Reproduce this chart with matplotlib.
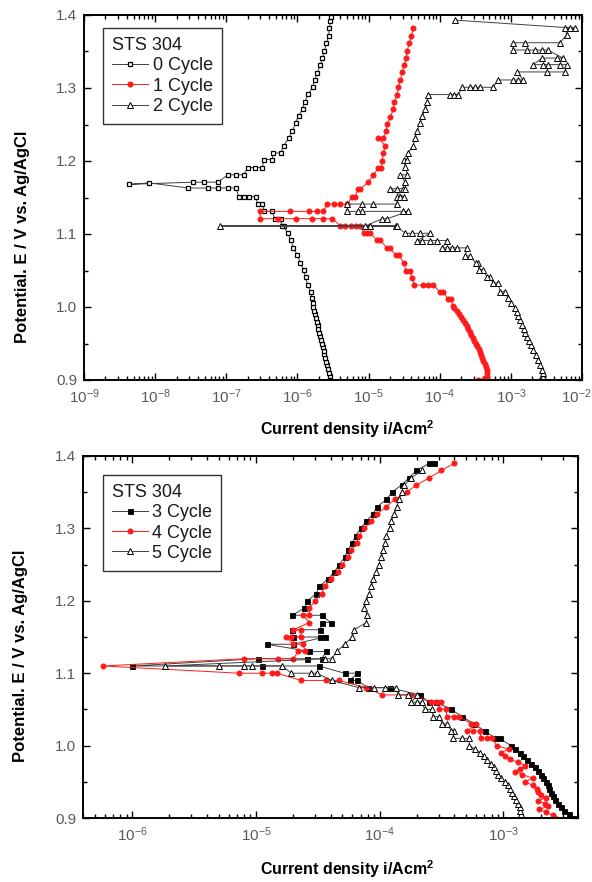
import matplotlib
matplotlib.use("Agg")
import matplotlib.pyplot as plt
import matplotlib.transforms as mtransforms
from matplotlib.ticker import (LogLocator, FixedLocator, MultipleLocator,
                               NullFormatter, FormatStrFormatter,
                               LogFormatterSciNotation)

plt.rcParams['font.family'] = ['Liberation Sans', 'DejaVu Sans']
plt.rcParams['mathtext.default'] = 'regular'

# ---- polarisation data: (potential E / V vs Ag/AgCl, current density / A cm^-2) ----
cycle0 = [(0.900, 2.91e-6), (0.905, 2.83e-6), (0.910, 2.75e-6), (0.915, 2.68e-6),
          (0.920, 2.60e-6), (0.925, 2.52e-6), (0.930, 2.45e-6), (0.935, 2.40e-6),
          (0.940, 2.35e-6), (0.945, 2.28e-6), (0.950, 2.20e-6), (0.955, 2.15e-6),
          (0.960, 2.10e-6), (0.965, 2.03e-6), (0.970, 1.97e-6), (0.975, 1.92e-6),
          (0.980, 1.86e-6), (0.985, 1.82e-6), (0.990, 1.78e-6), (0.995, 1.73e-6),
          (1.000, 1.68e-6), (1.005, 1.65e-6), (1.012, 1.60e-6), (1.021, 1.53e-6),
          (1.030, 1.39e-6), (1.041, 1.30e-6), (1.051, 1.22e-6), (1.060, 1.10e-6),
          (1.071, 1.00e-6), (1.081, 8.8e-7), (1.092, 8.0e-7), (1.101, 7.3e-7),
          (1.111, 6.4e-7), (1.111, 6.0e-7), (1.121, 5.8e-7), (1.121, 4.8e-7),
          (1.131, 4.4e-7), (1.131, 3.4e-7), (1.141, 3.2e-7), (1.141, 2.75e-7),
          (1.151, 2.6e-7), (1.151, 2.1e-7), (1.151, 1.75e-7), (1.151, 1.5e-7),
          (1.163, 1.36e-7), (1.163, 1.05e-7), (1.163, 7.6e-8), (1.163, 5.5e-8),
          (1.163, 2.9e-8), (1.170, 8.2e-9), (1.168, 4.3e-9), (1.171, 3.4e-8),
          (1.171, 4.8e-8), (1.171, 7.6e-8), (1.181, 1.05e-7), (1.181, 1.35e-7),
          (1.181, 1.75e-7), (1.191, 2.0e-7), (1.191, 2.5e-7), (1.191, 3.2e-7),
          (1.202, 3.4e-7), (1.202, 4.4e-7), (1.211, 4.6e-7), (1.211, 5.8e-7),
          (1.221, 6.4e-7), (1.231, 7.5e-7), (1.241, 8.5e-7), (1.252, 9.4e-7),
          (1.262, 1.04e-6), (1.271, 1.18e-6), (1.281, 1.26e-6), (1.292, 1.43e-6),
          (1.301, 1.63e-6), (1.311, 1.74e-6), (1.321, 1.91e-6), (1.332, 2.11e-6),
          (1.341, 2.25e-6), (1.351, 2.40e-6), (1.362, 2.56e-6), (1.371, 2.74e-6),
          (1.382, 2.82e-6), (1.392, 2.91e-6), (1.397, 2.95e-6)]

cycle1 = [(0.900, 3.4e-4), (0.903, 4.4e-4), (0.906, 4.6e-4), (0.910, 4.62e-4),
          (0.914, 4.55e-4), (0.918, 4.42e-4), (0.922, 4.28e-4), (0.926, 4.12e-4),
          (0.930, 3.97e-4), (0.934, 3.82e-4), (0.938, 3.67e-4), (0.942, 3.52e-4),
          (0.946, 3.37e-4), (0.950, 3.22e-4), (0.954, 3.07e-4), (0.958, 2.92e-4),
          (0.962, 2.77e-4), (0.966, 2.63e-4), (0.970, 2.50e-4), (0.974, 2.38e-4),
          (0.978, 2.26e-4), (0.982, 2.13e-4), (0.986, 1.99e-4), (0.990, 1.86e-4),
          (0.994, 1.73e-4), (0.998, 1.61e-4), (1.001, 1.55e-4), (1.011, 1.42e-4),
          (1.011, 1.30e-4), (1.021, 1.12e-4), (1.021, 1.00e-4), (1.030, 8.1e-5),
          (1.030, 6.9e-5), (1.030, 5.9e-5), (1.030, 4.4e-5), (1.040, 4.1e-5),
          (1.050, 3.8e-5), (1.050, 3.4e-5), (1.060, 3.1e-5), (1.071, 2.7e-5),
          (1.071, 2.4e-5), (1.081, 2.0e-5), (1.081, 1.8e-5), (1.092, 1.45e-5),
          (1.092, 1.3e-5), (1.101, 1.05e-5), (1.101, 9.6e-6), (1.101, 8.6e-6),
          (1.111, 7.7e-6), (1.111, 6.6e-6), (1.111, 5.6e-6), (1.111, 4.7e-6),
          (1.111, 4.0e-6), (1.121, 3.1e-6), (1.121, 2.3e-6), (1.121, 1.58e-6),
          (1.121, 9.4e-7), (1.121, 5.3e-7), (1.121, 3.0e-7), (1.131, 3.0e-7),
          (1.131, 7.8e-7), (1.131, 1.44e-6), (1.131, 1.86e-6), (1.131, 2.3e-6),
          (1.141, 2.6e-6), (1.141, 3.3e-6), (1.141, 4.0e-6), (1.141, 5.0e-6),
          (1.151, 5.9e-6), (1.151, 6.4e-6), (1.162, 7.2e-6), (1.162, 7.7e-6),
          (1.171, 9.9e-6), (1.181, 1.17e-5), (1.190, 1.37e-5), (1.190, 1.50e-5),
          (1.200, 1.56e-5), (1.211, 1.61e-5), (1.221, 1.72e-5), (1.231, 1.37e-5),
          (1.231, 1.61e-5), (1.241, 1.78e-5), (1.251, 1.84e-5), (1.260, 2.02e-5),
          (1.271, 2.23e-5), (1.281, 2.30e-5), (1.290, 2.53e-5), (1.301, 2.62e-5),
          (1.311, 2.79e-5), (1.322, 2.98e-5), (1.332, 3.18e-5), (1.341, 3.39e-5),
          (1.351, 3.50e-5), (1.362, 3.73e-5), (1.371, 4.00e-5), (1.382, 4.25e-5)]

cycle2 = [(0.900, 2.6e-3), (0.904, 2.83e-3), (0.909, 2.82e-3), (0.914, 2.74e-3),
          (0.920, 2.60e-3), (0.927, 2.42e-3), (0.934, 2.24e-3), (0.941, 2.06e-3),
          (0.948, 1.90e-3), (0.954, 1.78e-3), (0.959, 1.69e-3), (0.965, 1.60e-3),
          (0.970, 1.52e-3), (0.976, 1.44e-3), (0.982, 1.35e-3), (0.988, 1.27e-3),
          (0.993, 1.21e-3), (0.999, 1.15e-3), (1.005, 1.02e-3), (1.012, 9.1e-4),
          (1.021, 8.2e-4), (1.021, 7.1e-4), (1.033, 6.5e-4), (1.033, 5.6e-4),
          (1.041, 5.1e-4), (1.041, 4.6e-4), (1.051, 4.1e-4), (1.051, 3.6e-4),
          (1.060, 3.4e-4), (1.060, 3.2e-4), (1.070, 2.7e-4), (1.070, 2.3e-4),
          (1.081, 2.43e-4), (1.081, 1.76e-4), (1.081, 1.50e-4), (1.081, 1.27e-4),
          (1.081, 1.08e-4), (1.091, 1.27e-4), (1.091, 9.2e-5), (1.091, 7.4e-5),
          (1.091, 5.7e-5), (1.091, 4.8e-5), (1.101, 7.4e-5), (1.101, 5.3e-5),
          (1.101, 4.1e-5), (1.101, 3.3e-5), (1.111, 2.4e-5), (1.111, 8.1e-8),
          (1.111, 2.53e-5), (1.111, 1.06e-5), (1.111, 9.0e-6), (1.121, 1.56e-5),
          (1.121, 1.84e-5), (1.131, 3.6e-5), (1.131, 3.0e-5), (1.131, 8.2e-6),
          (1.131, 7.0e-6), (1.131, 5.0e-6), (1.141, 5.0e-6), (1.141, 8.2e-6),
          (1.141, 1.17e-5), (1.141, 2.5e-5), (1.151, 2.5e-5), (1.151, 2.8e-5),
          (1.151, 3.1e-5), (1.162, 2.0e-5), (1.162, 2.5e-5), (1.162, 3.0e-5),
          (1.162, 3.3e-5), (1.171, 3.3e-5), (1.181, 2.8e-5), (1.181, 3.5e-5),
          (1.192, 3.3e-5), (1.201, 3.1e-5), (1.201, 3.5e-5), (1.211, 3.6e-5),
          (1.221, 4.25e-5), (1.231, 4.5e-5), (1.241, 4.83e-5), (1.252, 5.3e-5),
          (1.262, 5.7e-5), (1.271, 6.3e-5), (1.281, 6.7e-5), (1.291, 6.9e-5),
          (1.291, 1.40e-4), (1.291, 1.60e-4), (1.291, 1.82e-4), (1.301, 2.07e-4),
          (1.301, 2.68e-4), (1.301, 3.15e-4), (1.301, 3.70e-4), (1.301, 5.6e-4),
          (1.311, 6.6e-4), (1.311, 1.07e-3), (1.311, 1.26e-3), (1.311, 1.48e-3),
          (1.322, 1.22e-3), (1.322, 3.2e-3), (1.322, 5.75e-3), (1.332, 6.1e-3),
          (1.332, 4.9e-3), (1.332, 3.3e-3), (1.332, 2.83e-3), (1.332, 2.05e-3),
          (1.341, 2.74e-3), (1.341, 4.45e-3), (1.341, 5.4e-3), (1.352, 3.3e-3),
          (1.352, 2.74e-3), (1.352, 2.18e-3), (1.352, 1.69e-3), (1.352, 1.07e-3),
          (1.362, 1.07e-3), (1.362, 1.58e-3), (1.362, 4.9e-3), (1.373, 6.1e-3),
          (1.382, 5.75e-3), (1.382, 6.8e-3), (1.382, 7.9e-3), (1.393, 1.65e-4)]

cycle3 = [(0.900, 3.7e-3), (0.905, 3.4e-3), (0.910, 3.1e-3), (0.915, 2.9e-3),
          (0.920, 2.75e-3), (0.925, 2.62e-3), (0.930, 2.5e-3), (0.935, 2.42e-3),
          (0.940, 2.35e-3), (0.945, 2.28e-3), (0.950, 2.2e-3), (0.955, 2.1e-3),
          (0.960, 2.0e-3), (0.965, 1.9e-3), (0.970, 1.8e-3), (0.975, 1.68e-3),
          (0.980, 1.55e-3), (0.985, 1.45e-3), (0.990, 1.35e-3), (0.995, 1.25e-3),
          (1.000, 1.15e-3), (1.010, 9.3e-4), (1.010, 8.6e-4), (1.020, 7.1e-4),
          (1.030, 5.8e-4), (1.040, 4.6e-4), (1.050, 3.8e-4), (1.060, 2.85e-4),
          (1.060, 2.5e-4), (1.070, 2.1e-4), (1.080, 1.2e-4), (1.080, 8.0e-5),
          (1.090, 6.6e-5), (1.090, 5.7e-5), (1.100, 6.6e-5), (1.100, 5.2e-5),
          (1.110, 3.2e-5), (1.110, 1.12e-5), (1.110, 1.0e-6), (1.120, 1.04e-5),
          (1.120, 2.6e-5), (1.120, 3.4e-5), (1.130, 3.7e-5), (1.130, 2.7e-5),
          (1.140, 1.23e-5), (1.140, 2.0e-5), (1.150, 3.6e-5), (1.150, 3.3e-5),
          (1.150, 2.0e-5), (1.160, 1.97e-5), (1.160, 3.3e-5), (1.170, 3.4e-5),
          (1.170, 4.0e-5), (1.180, 3.4e-5), (1.180, 1.97e-5), (1.190, 2.46e-5),
          (1.200, 2.6e-5), (1.210, 3.07e-5), (1.220, 3.25e-5), (1.230, 3.8e-5),
          (1.240, 4.3e-5), (1.250, 4.7e-5), (1.260, 5.2e-5), (1.270, 5.5e-5),
          (1.280, 6.0e-5), (1.290, 6.4e-5), (1.300, 7.0e-5), (1.310, 7.8e-5),
          (1.320, 8.8e-5), (1.330, 9.55e-5), (1.340, 1.13e-4), (1.350, 1.26e-4),
          (1.360, 1.5e-4), (1.370, 1.73e-4), (1.380, 1.98e-4), (1.390, 2.52e-4),
          (1.390, 2.75e-4)]

cycle4 = [(0.900, 2.6e-3), (0.904, 2.5e-3), (0.908, 2.2e-3), (0.912, 1.95e-3),
          (0.916, 2.3e-3), (0.920, 2.15e-3), (0.924, 1.9e-3), (0.928, 2.2e-3),
          (0.932, 2.0e-3), (0.936, 1.9e-3), (0.940, 1.85e-3), (0.945, 1.72e-3),
          (0.950, 1.5e-3), (0.955, 1.72e-3), (0.960, 1.42e-3), (0.964, 1.25e-3),
          (0.968, 1.35e-3), (0.972, 1.5e-3), (0.977, 1.3e-3), (0.981, 1.12e-3),
          (0.985, 1.02e-3), (0.990, 9.5e-4), (0.995, 1.1e-3), (1.000, 8.8e-4),
          (1.010, 8.1e-4), (1.010, 7.3e-4), (1.010, 6.6e-4), (1.020, 6.4e-4),
          (1.020, 5.7e-4), (1.020, 5.1e-4), (1.030, 6.0e-4), (1.030, 5.5e-4),
          (1.040, 4.4e-4), (1.040, 4.0e-4), (1.040, 3.5e-4), (1.050, 3.4e-4),
          (1.050, 3.0e-4), (1.060, 3.1e-4), (1.060, 2.85e-4), (1.060, 2.6e-4),
          (1.070, 1.8e-4), (1.070, 1.05e-4), (1.080, 7.8e-5), (1.090, 4.7e-5),
          (1.090, 3.7e-5), (1.090, 2.3e-5), (1.100, 1.48e-5), (1.100, 1.35e-5),
          (1.100, 1.12e-5), (1.100, 7.3e-6), (1.110, 5.8e-7), (1.120, 8.0e-6),
          (1.120, 1.5e-5), (1.120, 2.0e-5), (1.130, 2.2e-5), (1.130, 2.5e-5),
          (1.140, 2.4e-5), (1.140, 2.0e-5), (1.150, 1.75e-5), (1.150, 1.93e-5),
          (1.150, 2.3e-5), (1.160, 2.3e-5), (1.160, 2.0e-5), (1.170, 2.7e-5),
          (1.180, 2.4e-5), (1.180, 2.7e-5), (1.190, 2.7e-5), (1.200, 3.0e-5),
          (1.210, 3.4e-5), (1.220, 3.6e-5), (1.230, 4.0e-5), (1.240, 4.6e-5),
          (1.250, 5.0e-5), (1.260, 5.5e-5), (1.270, 5.9e-5), (1.280, 6.5e-5),
          (1.290, 6.8e-5), (1.300, 7.5e-5), (1.310, 8.5e-5), (1.320, 9.5e-5),
          (1.330, 1.13e-4), (1.340, 1.32e-4), (1.350, 1.65e-4), (1.360, 1.98e-4),
          (1.370, 2.52e-4), (1.380, 3.15e-4), (1.390, 4.0e-4)]

cycle5 = [(0.900, 1.4e-3), (0.905, 1.39e-3), (0.910, 1.37e-3), (0.915, 1.35e-3),
          (0.920, 1.3e-3), (0.925, 1.26e-3), (0.930, 1.22e-3), (0.935, 1.18e-3),
          (0.940, 1.13e-3), (0.945, 1.08e-3), (0.950, 1.02e-3), (0.955, 9.5e-4),
          (0.960, 9.0e-4), (0.965, 8.7e-4), (0.970, 8.4e-4), (0.975, 7.9e-4),
          (0.980, 7.4e-4), (0.985, 7.0e-4), (0.990, 6.5e-4), (0.995, 5.9e-4),
          (1.000, 5.3e-4), (1.010, 5.3e-4), (1.010, 4.6e-4), (1.010, 3.9e-4),
          (1.020, 4.0e-4), (1.020, 3.8e-4), (1.030, 3.5e-4), (1.030, 3.2e-4),
          (1.040, 3.0e-4), (1.040, 2.7e-4), (1.050, 2.65e-4), (1.050, 2.3e-4),
          (1.060, 2.2e-4), (1.060, 2.0e-4), (1.060, 1.8e-4), (1.070, 2.0e-4),
          (1.070, 1.7e-4), (1.070, 1.4e-4), (1.080, 1.35e-4), (1.080, 1.1e-4),
          (1.080, 9.0e-5), (1.080, 6.8e-5), (1.090, 4.1e-5), (1.100, 3.1e-5),
          (1.100, 2.8e-5), (1.100, 1.93e-5), (1.110, 1.63e-5), (1.110, 9.3e-6),
          (1.110, 8.0e-6), (1.110, 5.0e-6), (1.110, 1.85e-6), (1.120, 3.6e-5),
          (1.120, 4.1e-5), (1.130, 4.5e-5), (1.140, 5.2e-5), (1.150, 6.0e-5),
          (1.160, 6.2e-5), (1.170, 7.8e-5), (1.180, 7.9e-5), (1.190, 7.5e-5),
          (1.200, 7.8e-5), (1.210, 8.2e-5), (1.220, 8.55e-5), (1.230, 8.9e-5),
          (1.240, 9.4e-5), (1.250, 9.8e-5), (1.260, 1.03e-4), (1.270, 1.07e-4),
          (1.280, 1.11e-4), (1.290, 1.13e-4), (1.300, 1.2e-4), (1.310, 1.24e-4),
          (1.320, 1.31e-4), (1.330, 1.37e-4), (1.340, 1.44e-4), (1.350, 1.5e-4),
          (1.360, 1.58e-4), (1.370, 1.8e-4), (1.380, 2.2e-4)]

top_labels = ["0 Cycle", "1 Cycle", "2 Cycle"]
bottom_labels = ["3 Cycle", "4 Cycle", "5 Cycle"]
legend_title = "STS 304"
x_label = "Current density i/Acm$^{2}$"
y_label = "Potential. E / V vs. Ag/AgCl"
top_xlim = (1e-9, 1e-2)
bottom_xlim = (4e-7, 4e-3)
top_decades = [1e-9, 1e-8, 1e-7, 1e-6, 1e-5, 1e-4, 1e-3, 1e-2]
bottom_decades = [1e-6, 1e-5, 1e-4, 1e-3]
e_lim = (0.9, 1.4)

RED = "#ff1a1a"
LINE_GREY = "#404040"


def split(pairs):
    e = [p[0] for p in pairs]
    i = [p[1] for p in pairs]
    return i, e


def style_axes(ax, xlim, decades):
    ax.set_xscale("log")
    ax.set_xlim(*xlim)
    ax.set_ylim(*e_lim)
    ax.xaxis.set_major_locator(FixedLocator(decades))
    ax.xaxis.set_major_formatter(LogFormatterSciNotation())
    ax.xaxis.set_minor_locator(LogLocator(base=10, subs=range(2, 10), numticks=20))
    ax.xaxis.set_minor_formatter(NullFormatter())
    ax.yaxis.set_major_locator(MultipleLocator(0.1))
    ax.yaxis.set_minor_locator(MultipleLocator(0.05))
    ax.yaxis.set_major_formatter(FormatStrFormatter("%.1f"))
    ax.tick_params(which="both", direction="in", top=True, right=True,
                   width=1.0, color="black")
    ax.tick_params(which="major", length=5, labelsize=11,
                   labelcolor="#5a5a5a", pad=5)
    ax.tick_params(which="minor", length=3)
    for sp in ax.spines.values():
        sp.set_linewidth(1.4)
    ax.set_xlabel(x_label, fontsize=11.5, fontweight="bold")
    ax.set_ylabel(y_label, fontsize=12, fontweight="bold")


def add_legend(ax, anchor):
    leg = ax.legend(loc="upper left", bbox_to_anchor=anchor, borderaxespad=0,
                    title=legend_title, alignment="left", fontsize=13,
                    title_fontsize=13, frameon=True, fancybox=False,
                    edgecolor="#333333", framealpha=1, handlelength=2.0,
                    handletextpad=0.25, labelspacing=0.18, borderpad=0.5,
                    numpoints=1)
    leg.get_frame().set_linewidth(1.0)
    for t in leg.get_texts():
        t.set_color("#1a1a1a")
    leg.get_title().set_color("#1a1a1a")


fig = plt.figure(figsize=(5.92, 8.82), dpi=100)

# upper panel: cycles 0-2
ax1 = fig.add_axes([84 / 592, 1 - 380 / 882, 498 / 592, 365 / 882])
i, e = split(cycle0)
ax1.plot(i, e, ls="-", lw=0.7, color=LINE_GREY, marker="s", ms=3.3,
         mfc="white", mec="black", mew=0.9, label=top_labels[0])
i, e = split(cycle1)
ax1.plot(i, e, ls="-", lw=0.7, color=RED, marker="o", ms=3.8,
         mfc=RED, mec=RED, mew=0.5, label=top_labels[1])
i, e = split(cycle2)
ax1.plot(i, e, ls="-", lw=0.7, color=LINE_GREY, marker="^", ms=4.3,
         mfc="white", mec="black", mew=0.7, label=top_labels[2])
style_axes(ax1, top_xlim, top_decades)
ax1.xaxis.set_label_coords(0.528, -0.105)
ax1.yaxis.set_label_coords(-0.108, 0.392)
add_legend(ax1, (0.038, 0.964))

# lower panel: cycles 3-5
ax2 = fig.add_axes([83 / 592, 1 - 818 / 882, 495 / 592, 362 / 882])
i, e = split(cycle3)
ax2.plot(i, e, ls="-", lw=0.7, color=LINE_GREY, marker="s", ms=3.6,
         mfc="black", mec="black", mew=0.6, label=bottom_labels[0])
i, e = split(cycle4)
ax2.plot(i, e, ls="-", lw=0.7, color=RED, marker="o", ms=3.8,
         mfc=RED, mec=RED, mew=0.5, label=bottom_labels[1])
i, e = split(cycle5)
ax2.plot(i, e, ls="-", lw=0.7, color=LINE_GREY, marker="^", ms=4.3,
         mfc="white", mec="black", mew=0.7, label=bottom_labels[2])
style_axes(ax2, bottom_xlim, bottom_decades)
ax2.xaxis.set_label_coords(0.533, -0.112)
ax2.yaxis.set_label_coords(-0.111, 0.4475)
add_legend(ax2, (0.040, 0.9475))

# pull the right-most decade label of the upper panel inside the figure edge
fig.canvas.draw()
last = ax1.xaxis.get_major_ticks()[-1].label1
last.set_transform(last.get_transform()
                   + mtransforms.ScaledTranslation(-6 / 100, 0, fig.dpi_scale_trans))

fig.savefig("out.png", dpi=100)
